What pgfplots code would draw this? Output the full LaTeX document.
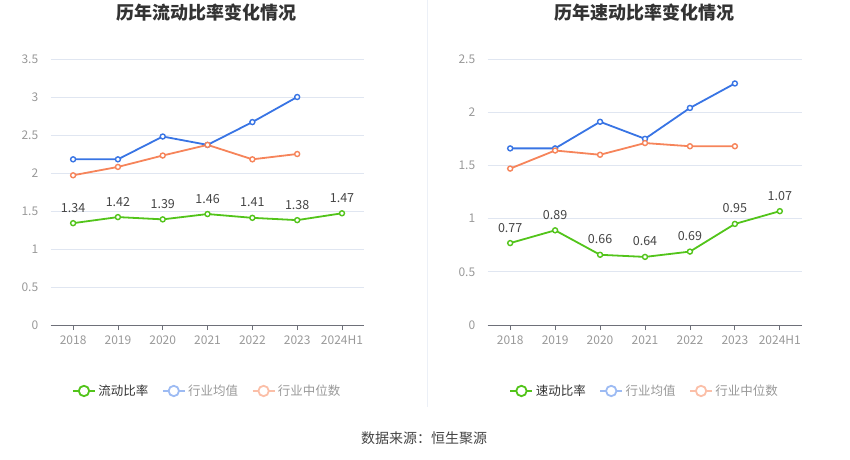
\documentclass[border=0pt]{standalone}
\usepackage{pgfplots}
\pgfplotsset{compat=1.18}
\usepackage{fontspec}
\setmainfont{Noto Sans CJK SC}
\definecolor{cgreen}{HTML}{52C41A}
\definecolor{cblue}{HTML}{3874E4}
\definecolor{corange}{HTML}{F6845A}
\definecolor{lblue}{HTML}{9DBBF3}
\definecolor{lorange}{HTML}{FBBFA8}
\definecolor{gridc}{HTML}{E0E6F1}
\definecolor{axisc}{HTML}{6E7079}
\definecolor{tickc}{HTML}{999999}
\definecolor{titlec}{HTML}{333333}
\definecolor{lblc}{HTML}{444444}
\pgfplotsset{
  myaxis/.style={
    scale only axis, height=266pt,
    /pgf/number format/assume math mode=true,
    axis x line*=bottom, axis y line*=left,
    x axis line style={-, color=axisc, line width=0.8pt},
    y axis line style={draw=none},
    xmin=-0.5, xmax=6.5, ymin=0,
    xtick={0,...,6},
    xticklabels={2018,2019,2020,2021,2022,2023,2024H1},
    tick align=outside, major tick length=5pt,
    xtick style={color=axisc, line width=0.8pt},
    ytick style={draw=none},
    ymajorgrids, grid style={color=gridc, line width=0.8pt},
    tick label style={font=\fontsize{12}{14}\selectfont, text=tickc},
    yticklabel style={xshift=-4pt},
    xticklabel style={yshift=-2pt},
    clip=false,
    legend columns=3,
    legend style={draw=none, fill=none, at={(0.5,-0.248)}, anchor=center,
      font=\fontsize{12.5}{14}\selectfont,
      /tikz/every even column/.append style={column sep=11pt},
      nodes={inner sep=2.5pt}},
    legend image code/.code={
      \draw[line width=1.8pt] (0pt,0pt) -- (22pt,0pt);
      \draw[line width=1.8pt, fill=white] (11pt,0pt) circle (5.2pt);
    },
  },
  ser/.style={line width=1.8pt, mark=*, mark size=2.5pt,
    mark options={fill=white, line width=1.4pt}},
}
\begin{document}
\begin{tikzpicture}[x=1pt,y=1pt]
\path[use as bounding box] (0,0) rectangle (850,459);
\draw[color=gridc!60, line width=0.8pt] (427,459) -- (427,52);
\node[font=\fontsize{18}{20}\selectfont\bfseries, text=titlec] at (206,446) {历年流动比率变化情况};
\node[font=\fontsize{18}{20}\selectfont\bfseries, text=titlec] at (644,446) {历年速动比率变化情况};
\node[font=\fontsize{14}{16}\selectfont, text=lblc] at (424,21) {数据来源：恒生聚源};

\begin{axis}[myaxis, at={(50.7pt,134pt)}, anchor=south west, width=313.7pt,
  ymax=3.5, ytick={0,0.5,1,1.5,2,2.5,3,3.5},
  yticklabels={0,0.5,1,1.5,2,2.5,3,3.5}]
\addplot[ser, color=cblue, forget plot] coordinates {(0,2.18) (1,2.18) (2,2.48) (3,2.37) (4,2.67) (5,3.00)};
\addplot[ser, color=corange, forget plot] coordinates {(0,1.97) (1,2.08) (2,2.23) (3,2.37) (4,2.18) (5,2.25)};
\addplot[ser, color=cgreen, forget plot, point meta=explicit symbolic,
  nodes near coords, nodes near coords style={anchor=base, yshift=11pt, inner sep=0pt,
  font=\fontsize{12.5}{14}\selectfont, text=lblc}]
  coordinates {(0,1.34)[1.34] (1,1.42)[1.42] (2,1.39)[1.39] (3,1.46)[1.46] (4,1.41)[1.41] (5,1.38)[1.38] (6,1.47)[1.47]};
\addlegendimage{color=cgreen}
\addlegendentry{\textcolor{titlec}{流动比率}}
\addlegendimage{color=lblue}
\addlegendentry{\textcolor{tickc}{行业均值}}
\addlegendimage{color=lorange}
\addlegendentry{\textcolor{tickc}{行业中位数}}
\end{axis}

\begin{axis}[myaxis, at={(487.7pt,134pt)}, anchor=south west, width=314.6pt,
  ymax=2.5, ytick={0,0.5,1,1.5,2,2.5},
  yticklabels={0,0.5,1,1.5,2,2.5}]
\addplot[ser, color=cblue, forget plot] coordinates {(0,1.66) (1,1.66) (2,1.91) (3,1.75) (4,2.04) (5,2.27)};
\addplot[ser, color=corange, forget plot] coordinates {(0,1.47) (1,1.64) (2,1.60) (3,1.71) (4,1.68) (5,1.68)};
\addplot[ser, color=cgreen, forget plot, point meta=explicit symbolic,
  nodes near coords, nodes near coords style={anchor=base, yshift=11pt, inner sep=0pt,
  font=\fontsize{12.5}{14}\selectfont, text=lblc}]
  coordinates {(0,0.77)[0.77] (1,0.89)[0.89] (2,0.66)[0.66] (3,0.64)[0.64] (4,0.69)[0.69] (5,0.95)[0.95] (6,1.07)[1.07]};
\addlegendimage{color=cgreen}
\addlegendentry{\textcolor{titlec}{速动比率}}
\addlegendimage{color=lblue}
\addlegendentry{\textcolor{tickc}{行业均值}}
\addlegendimage{color=lorange}
\addlegendentry{\textcolor{tickc}{行业中位数}}
\end{axis}
\end{tikzpicture}
\end{document}
